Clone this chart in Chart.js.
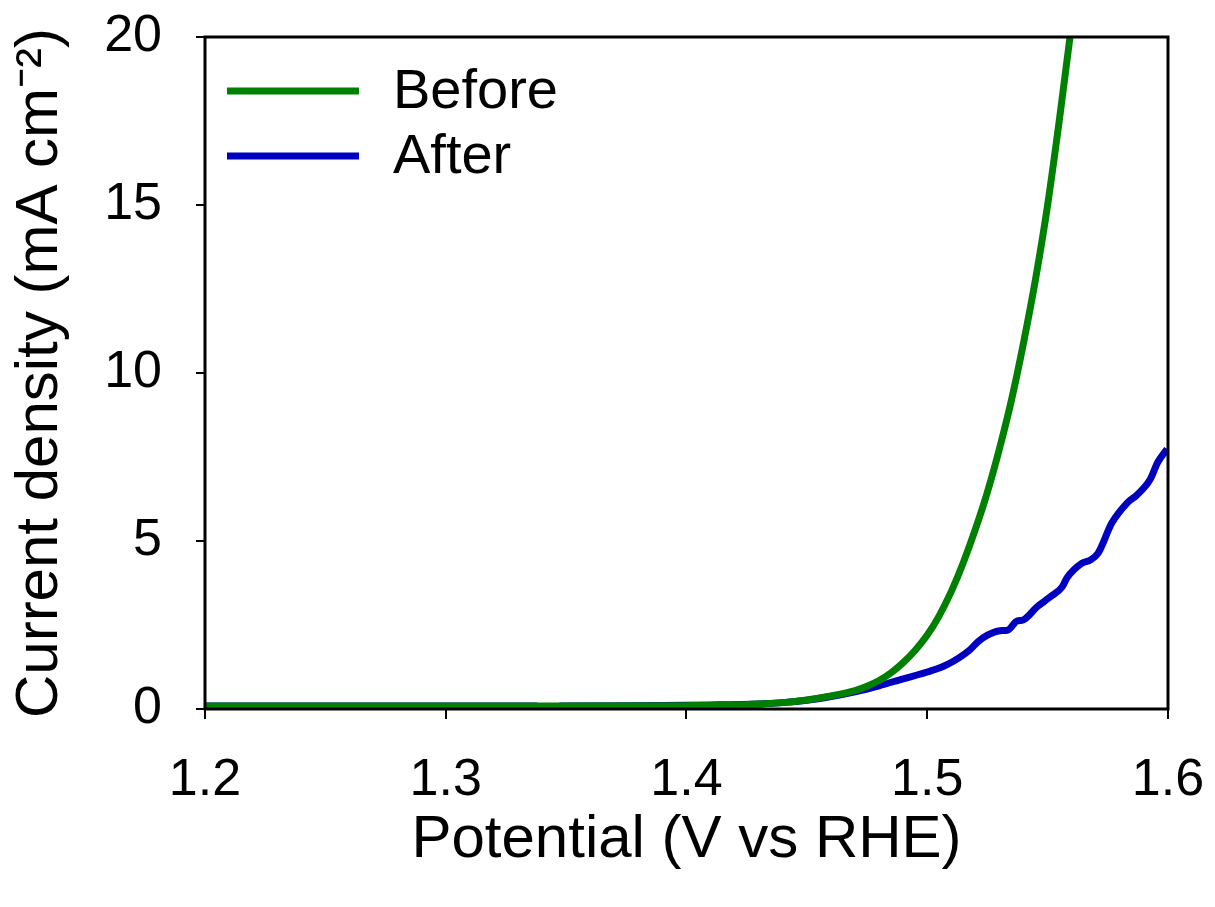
<!DOCTYPE html>
<html>
<head>
<meta charset="utf-8">
<script src="https://cdn.jsdelivr.net/npm/chart.js@4.4.0/dist/chart.umd.min.js"></script>
<style>
  html, body { margin: 0; padding: 0; background: #fff; }
  #wrap { width: 1215px; height: 907px; }
</style>
</head>
<body>
<div id="wrap"><canvas id="chart-area" width="1215" height="907"></canvas></div>
<script>
// potential (V vs RHE) and current density (mA cm-2)
var beforeV = [1.20, 1.25, 1.30, 1.35, 1.40, 1.42, 1.43, 1.44, 1.45, 1.46, 1.47, 1.475, 1.48, 1.485,
  1.49, 1.495, 1.50, 1.505, 1.51, 1.515, 1.52, 1.525, 1.53, 1.535, 1.54, 1.545, 1.55, 1.555, 1.56];
var beforeJ = [0.09, 0.09, 0.09, 0.09, 0.10, 0.12, 0.15, 0.19, 0.27, 0.39, 0.55, 0.68, 0.85, 1.08,
  1.38, 1.75, 2.20, 2.78, 3.50, 4.36, 5.35, 6.46, 7.75, 9.20, 10.90, 12.80, 15.00, 17.60, 20.40];

var afterV = [1.20, 1.25, 1.30, 1.3375, 1.338, 1.347, 1.3475, 1.38, 1.41, 1.43, 1.44, 1.45, 1.46,
  1.47, 1.48, 1.49, 1.50, 1.508, 1.5177, 1.521, 1.525, 1.5302, 1.5335, 1.5373, 1.5398,
  1.5456, 1.551, 1.556, 1.558, 1.5643, 1.5676, 1.5709, 1.5767, 1.583, 1.5871, 1.5925,
  1.5958, 1.5996];
var afterJ = [0.09, 0.09, 0.09, 0.09, -0.12, -0.08, 0.09, 0.10, 0.12, 0.15, 0.19, 0.26, 0.37,
  0.51, 0.69, 0.90, 1.10, 1.31, 1.76, 2.00, 2.20, 2.33, 2.35, 2.62, 2.65,
  3.04, 3.33, 3.63, 3.90, 4.34, 4.43, 4.63, 5.54, 6.13, 6.37, 6.82,
  7.35, 7.74];

var xTicks = [1.2, 1.3, 1.4, 1.5, 1.6];
var yTicks = [0, 5, 10, 15, 20];

function toPoints(xs, ys) {
  var pts = [];
  for (var i = 0; i < xs.length; i++) pts.push({x: xs[i], y: ys[i]});
  return pts;
}

var FONT = '"Liberation Sans", Arial, sans-serif';

// box round the plot + legend lines inside the plot
var framePlugin = {
  id: 'frame',
  afterDraw: function(chart) {
    var ctx = chart.ctx, a = chart.chartArea;
    ctx.save();
    ctx.strokeStyle = '#000';
    ctx.lineWidth = 3;
    ctx.strokeRect(a.left, a.top, a.right - a.left, a.bottom - a.top);

    chart.data.datasets.forEach(function(ds, i) {
      var y = 91 + i * 65;
      ctx.strokeStyle = ds.borderColor;
      ctx.lineWidth = 7;
      ctx.beginPath();
      ctx.moveTo(227, y);
      ctx.lineTo(359, y);
      ctx.stroke();
      ctx.fillStyle = '#000';
      ctx.font = '56px ' + FONT;
      ctx.textBaseline = 'middle';
      ctx.textAlign = 'left';
      ctx.fillText(ds.label, 393, y + 2);
    });
    ctx.restore();
  }
};

var config = {
  type: 'line',
  data: {
    datasets: [{
      label: 'Before',
      data: toPoints(beforeV, beforeJ),
      borderColor: '#008000',
      borderWidth: 7,
      pointRadius: 0,
      cubicInterpolationMode: 'monotone',
      fill: false
    }, {
      label: 'After',
      data: toPoints(afterV, afterJ),
      borderColor: '#0000C0',
      borderWidth: 7,
      pointRadius: 0,
      cubicInterpolationMode: 'monotone',
      fill: false
    }]
  },
  options: {
    responsive: false,
    animation: false,
    layout: { padding: { top: 37, right: 47, left: 0, bottom: 0 } },
    plugins: {
      legend: { display: false },
      tooltip: { enabled: false }
    },
    scales: {
      x: {
        type: 'linear',
        min: 1.2,
        max: 1.6,
        afterFit: function(s) { s.height = 198; s.paddingLeft = 0; s.paddingRight = 0; },
        afterBuildTicks: function(s) { s.ticks = xTicks.map(function(v) { return {value: v}; }); },
        border: { display: false },
        grid: { drawOnChartArea: false, drawTicks: true, tickLength: 10, color: '#000', lineWidth: 2 },
        ticks: {
          color: '#000',
          padding: 30,
          maxRotation: 0,
          font: { family: FONT, size: 52 },
          callback: function(v) { return Number(v).toFixed(1); }
        },
        title: {
          display: true,
          text: 'Potential (V vs RHE)',
          color: '#000',
          font: { family: FONT, size: 60, lineHeight: 1 },
          padding: { top: 0, bottom: 37 }
        }
      },
      y: {
        min: 0,
        max: 20,
        afterFit: function(s) { s.width = 205; s.paddingTop = 0; s.paddingBottom = 0; },
        afterBuildTicks: function(s) { s.ticks = yTicks.map(function(v) { return {value: v}; }); },
        border: { display: false },
        grid: { drawOnChartArea: false, drawTicks: true, tickLength: 9, color: '#000', lineWidth: 2 },
        ticks: {
          color: '#000',
          padding: 34,
          font: { family: FONT, size: 52 }
        },
        title: {
          display: true,
          text: 'Current density (mA cm\u207B\u00B2)',
          color: '#000',
          font: { family: FONT, size: 60, lineHeight: 1 },
          padding: { top: 10, bottom: 0 }
        }
      }
    }
  },
  plugins: [framePlugin]
};

window.onload = function() {
  var ctx = document.getElementById('chart-area').getContext('2d');
  window.myLine = new Chart(ctx, config);
};
</script>
</body>
</html>
